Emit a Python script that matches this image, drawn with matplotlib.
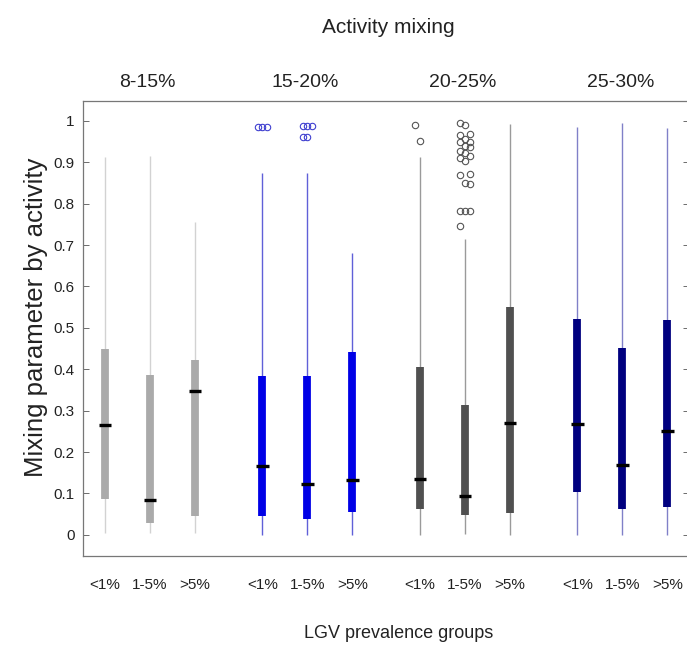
import numpy as np
import matplotlib
matplotlib.use("Agg")
import matplotlib.pyplot as plt
import matplotlib.transforms as mtrans

# data
groups = ["8-15%", "15-20%", "20-25%", "25-30%"]
prev_labels = ["<1%", "1-5%", ">5%"]

whis_lo = [0.005, 0.005, 0.005, 0.0, 0.0, 0.0, 0.0, 0.003, 0.0, 0.0, 0.0, 0.0]
q1 = [0.087, 0.028, 0.046, 0.046, 0.038, 0.055, 0.062, 0.048, 0.052, 0.103, 0.062, 0.068]
med = [0.265, 0.084, 0.347, 0.167, 0.123, 0.133, 0.136, 0.095, 0.271, 0.267, 0.170, 0.251]
q3 = [0.450, 0.386, 0.422, 0.383, 0.383, 0.442, 0.406, 0.313, 0.550, 0.522, 0.451, 0.518]
whis_hi = [0.912, 0.916, 0.755, 0.875, 0.875, 0.680, 0.912, 0.715, 0.992, 0.984, 0.996, 0.982]

fliers = {
    3: [0.984, 0.984, 0.984],
    4: [0.988, 0.988, 0.988, 0.962, 0.962],
    6: [0.990, 0.952],
    7: [0.994, 0.990, 0.968, 0.966, 0.956, 0.950, 0.948, 0.940, 0.936, 0.928,
        0.922, 0.916, 0.910, 0.904, 0.872, 0.868, 0.851, 0.848, 0.783, 0.783,
        0.783, 0.747],
}

box_cols = ["#aaaaaa", "#0000e6", "#505050", "#00007f"]
whis_cols = ["#d2d2d2", "#6060d8", "#9a9a9a", "#8080c8"]
flier_cols = ["#aaaaaa", "#4040d0", "#555555", "#00007f"]

narrow = ["Liberation Sans Narrow", "Liberation Sans", "DejaVu Sans"]
plt.rcParams["font.family"] = ["Liberation Sans", "DejaVu Sans"]

# box positions: three per group, wider gap between groups
pos = []
for g in range(len(groups)):
    for k in range(len(prev_labels)):
        pos.append(1 + g * 3.5 + k)
pos = np.array(pos)

fig = plt.figure(figsize=(6.87, 6.46), dpi=100)
ax = fig.add_axes([0.1208, 0.1393, 0.8822, 0.7044])

for i, x in enumerate(pos):
    g = i // 3
    ax.vlines(x, whis_lo[i], whis_hi[i], color=whis_cols[g], lw=1.0, zorder=1)
    ax.vlines(x, q1[i], q3[i], color=box_cols[g], lw=5.6, zorder=2)
    ax.hlines(med[i], x - 0.14, x + 0.14, color="black", lw=2.4, zorder=3)
    if i in fliers:
        offs = [-0.11, 0.0, 0.11]
        for j, v in enumerate(fliers[i]):
            ax.plot(x + offs[j % 3], v, "o", mfc="none", mec=flier_cols[g],
                    ms=4.6, mew=0.8, zorder=4)

ax.set_xlim(0.511, 13.98)
ax.set_ylim(-0.051, 1.048)

ax.set_yticks(np.arange(0, 1.01, 0.1))
ax.set_yticklabels(["0", "0.1", "0.2", "0.3", "0.4", "0.5", "0.6", "0.7", "0.8", "0.9", "1"])
ax.tick_params(axis="y", direction="in", length=4, width=0.6, color="#555555",
               labelsize=11, labelcolor="#222222", pad=6, right=True)
ax.set_xticks(pos)
ax.set_xticklabels(prev_labels * len(groups), family=narrow, fontsize=11)
ax.tick_params(axis="x", length=0, pad=16, labelcolor="#222222")

for sp in ax.spines.values():
    sp.set_color("#777777")
    sp.set_linewidth(0.9)

trans = mtrans.blended_transform_factory(ax.transData, ax.transAxes)
for g, name in enumerate(groups):
    ax.text(pos[g * 3 + 1] - 0.05, 1.022, name, transform=trans, ha="center",
            va="bottom", family=narrow, fontsize=14, color="#222222")

fig.text(0.565, 0.958, "Activity mixing", ha="center", va="center",
         family=narrow, fontsize=15, color="#222222")
fig.text(0.58, 0.006, "LGV prevalence groups", ha="center", va="bottom",
         family=narrow, fontsize=13, color="#222222")
fig.text(0.052, 0.509, "Mixing parameter by activity", rotation=90, ha="center",
         va="center", fontsize=18.5, color="#222222")

fig.savefig("out.png", dpi=100)
